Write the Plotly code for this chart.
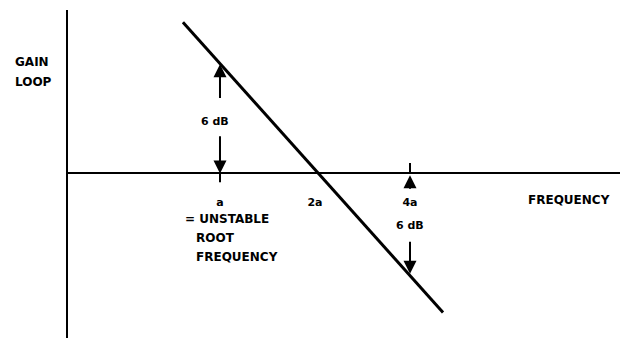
import numpy as np
import plotly.graph_objects as go

# ---- data (frequency in units of a, gain in dB) ----
tick_freqs = [1, 2, 4]
tick_labels = ["a", "2a", "4a"]
line_freq = [0.763, 5.09]          # asymptote endpoints
line_gain = [8.6, -7.9]
gain_at_a = 6.2                    # line height at a (6 dB above)
gain_at_4a = -5.7                  # line height at 4a (6 dB below)
label_db = "6 dB"

x_range = [-0.4816, 1.2928]        # log10 of frequency
y_range = [-9.35, 9.29]            # dB

FONT = "DejaVu Sans"
# page body has an 8px margin, so the figure is drawn 8px in from the corner
W, H = 620, 331
ML, MR, MT, MB = 60, 0, 2, 1
PLOT_W = W - ML - MR


def px_paper_x(page_x):
    return (page_x - 8 - ML) / PLOT_W


fig = go.Figure()
fig.add_trace(go.Scatter(x=line_freq, y=line_gain, mode="lines",
                         line=dict(color="black", width=3), hoverinfo="skip"))
# small tick stubs at a (below axis) and 4a (above axis)
fig.add_trace(go.Scatter(x=[tick_freqs[0], tick_freqs[0]], y=[0, -0.5], mode="lines",
                         line=dict(color="black", width=2), hoverinfo="skip"))
fig.add_trace(go.Scatter(x=[tick_freqs[2], tick_freqs[2]], y=[0, 0.6], mode="lines",
                         line=dict(color="black", width=2), hoverinfo="skip"))


def arrow(f, tip, tail):
    lx = float(np.log10(f))
    return dict(x=lx, y=tip, ax=lx, ay=tail, xref="x", yref="y", axref="x", ayref="y",
                text="", showarrow=True, arrowhead=2, arrowsize=1.3, arrowwidth=2,
                arrowcolor="black", standoff=0, startstandoff=0)


def label(x, y, text, font, xref="paper", yref="y", xanchor="center", **kw):
    return dict(x=x, y=y, xref=xref, yref=yref, text=text, showarrow=False,
                xanchor=xanchor, yanchor="middle", font=font, **kw)


la = float(np.log10(tick_freqs[0]))
l4 = float(np.log10(tick_freqs[2]))
bold = dict(family=FONT, size=12, color="black", weight="bold")
small = dict(family=FONT, size=11, color="black", weight="bold")

annotations = [
    arrow(tick_freqs[0], gain_at_a, 4.2),
    arrow(tick_freqs[0], 0, 2.2),
    arrow(tick_freqs[2], -0.1, -0.95),
    arrow(tick_freqs[2], gain_at_4a, -3.8),
    label(la, gain_at_a / 2 - 0.15, label_db, small, xref="x", xshift=-5),
    label(l4, gain_at_4a / 2 - 0.1, label_db, small, xref="x"),
    label(px_paper_x(183), -2.61, "= UNSTABLE", bold, xanchor="left"),
    label(px_paper_x(194), -3.66, "ROOT", bold, xanchor="left"),
    label(px_paper_x(194), -4.74, "FREQUENCY", bold, xanchor="left"),
    label(px_paper_x(569), -1.5, "FREQUENCY", bold),
    label(px_paper_x(13), (338 - 62) / 328, "GAIN", bold, yref="paper", xanchor="left"),
    label(px_paper_x(13), (338 - 82) / 328, "LOOP", bold, yref="paper", xanchor="left"),
]

zero_pos = (0 - y_range[0]) / (y_range[1] - y_range[0])

fig.update_layout(
    width=W, height=H, margin=dict(l=ML, r=MR, t=MT, b=MB),
    paper_bgcolor="white", plot_bgcolor="white", showlegend=False,
    annotations=annotations,
    xaxis=dict(type="log", range=x_range, anchor="free", position=zero_pos,
               showline=True, linewidth=2, linecolor="black", showgrid=False,
               zeroline=False, tickvals=tick_freqs, ticktext=tick_labels, ticks="",
               ticklabelstandoff=18, tickfont=small),
    yaxis=dict(range=y_range, showline=True, linewidth=2, linecolor="black",
               showgrid=False, zeroline=False, showticklabels=False, ticks=""),
)

fig.write_html("out.html")
